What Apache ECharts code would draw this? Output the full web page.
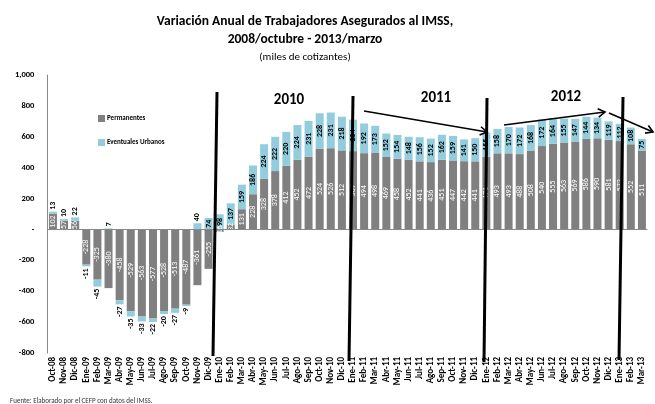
<!DOCTYPE html>
<html>
<head>
<meta charset="utf-8">
<script src="https://cdn.jsdelivr.net/npm/echarts@6/dist/echarts.min.js"></script>
<style>
  html, body { margin: 0; padding: 0; background: #fff; }
  #grafica { width: 655px; height: 404px; }
</style>
</head>
<body>
<div id="grafica"></div>
<script>
  // meses (eje x)
  var categorias = ['Oct-08','Nov-08','Dic-08',
    'Ene-09','Feb-09','Mar-09','Abr-09','May-09','Jun-09','Jul-09','Ago-09','Sep-09','Oct-09','Nov-09','Dic-09',
    'Ene-10','Feb-10','Mar-10','Abr-10','May-10','Jun-10','Jul-10','Ago-10','Sep-10','Oct-10','Nov-10','Dic-10',
    'Ene-11','Feb-11','Mar-11','Abr-11','May-11','Jun-11','Jul-11','Ago-11','Sep-11','Oct-11','Nov-11','Dic-11',
    'Ene-12','Feb-12','Mar-12','Abr-12','May-12','Jun-12','Jul-12','Ago-12','Sep-12','Oct-12','Nov-12','Dic-12',
    'Ene-13','Feb-13','Mar-13']
  // miles de cotizantes
  var permanentes = [102, 57, 56,
    -228, -325, -380, -458, -529, -563, -577, -528, -513, -487, -361, -255,
    -16, 32, 131, 228, 328, 378, 412, 452, 472, 524, 526, 512,
    507, 494, 498, 469, 458, 452, 441, 436, 451, 447, 442, 441,
    471, 493, 493, 488, 508, 540, 555, 563, 569, 586, 590, 581,
    572, 552, 511]
  var eventuales = [13, 10, 22,
    -11, -45, 7, -27, -35, -33, -22, -20, -27, -9, 40, 74,
    98, 137, 159, 186, 224, 222, 220, 224, 231, 228, 231, 218,
    204, 192, 173, 152, 154, 148, 156, 152, 162, 159, 141, 150,
    155, 158, 170, 172, 168, 172, 164, 155, 147, 144, 134, 119,
    112, 108, 75]
  var ejeY = { min: -800, max: 1000, intervalo: 200 }
  var anios = ['2010', '2011', '2012']

  var fuente = "Carlito, 'Liberation Sans Narrow', 'Liberation Sans', sans-serif"
  var gris = '#808080'
  var azul = '#93cddd'

  // etiquetas de eventuales: afuera cuando la barra es chica o negativa
  function datosEventuales (data) {
    var res = []
    for (var i = 0; i < data.length; i++) {
      var v = data[i]
      var lab
      if (v < 0) {
        lab = { position: 'bottom', align: 'right', verticalAlign: 'middle', distance: 2 }
      } else if (v < 60) {
        lab = { position: 'top', align: 'left', verticalAlign: 'middle', distance: 2 }
      } else {
        lab = { position: 'inside', align: 'center', verticalAlign: 'middle' }
      }
      res.push({ value: v, label: lab })
    }
    return res
  }

  // flecha con punta abierta
  function flecha (x1, y1, x2, y2) {
    var a = Math.atan2(y2 - y1, x2 - x1), L = 8, s = 0.55
    return [
      { type: 'line', z: 100, shape: { x1: x1, y1: y1, x2: x2, y2: y2 }, style: { stroke: '#000', lineWidth: 1.6 } },
      { type: 'polyline', z: 100, shape: { points: [
        [x2 - L * Math.cos(a - s), y2 - L * Math.sin(a - s)], [x2, y2],
        [x2 - L * Math.cos(a + s), y2 - L * Math.sin(a + s)]] },
        style: { stroke: '#000', lineWidth: 1.6, fill: null } }
    ]
  }
  function linea (x1, y1, x2, y2) {
    return { type: 'line', z: 100, shape: { x1: x1, y1: y1, x2: x2, y2: y2 }, style: { stroke: '#000', lineWidth: 3 } }
  }
  function anio (txt, x, y) {
    return { type: 'text', z: 100, x: x, y: y, style: { text: txt, font: 'bold 15px ' + fuente, fill: '#000', align: 'center', verticalAlign: 'middle' } }
  }

  var graficos = [
    linea(217, 92, 213, 356), linea(353, 96, 349, 361), linea(487, 98, 484, 362), linea(623, 97, 619, 360),
    anio(anios[0], 289, 100), anio(anios[1], 436, 98), anio(anios[2], 566, 97),
    { type: 'text', z: 100, x: 10, y: 398, style: { text: 'Fuente: Elaborado por el CEFP con datos del IMSS.', font: '7px ' + fuente, fill: '#333' } }
  ].concat(flecha(364, 111, 487, 132), flecha(504, 125, 605, 112), flecha(609, 113, 653, 132))

  var chart = echarts.init(document.getElementById('grafica'))
  chart.setOption({
    animation: false,
    textStyle: { fontFamily: fuente },
    title: [
      { text: 'Variación Anual de Trabajadores Asegurados al IMSS,', left: 300, top: 10, textAlign: 'center',
        textStyle: { fontSize: 13.5, fontWeight: 'bold', color: '#000', fontFamily: fuente } },
      { text: '2008/octubre - 2013/marzo', left: 300, top: 28, textAlign: 'center',
        textStyle: { fontSize: 13.5, fontWeight: 'bold', color: '#000', fontFamily: fuente } },
      { text: '(miles de cotizantes)', left: 300, top: 47, textAlign: 'center',
        textStyle: { fontSize: 11, fontWeight: 'normal', color: '#000', fontFamily: fuente } }
    ],
    legend: {
      orient: 'vertical', left: 93, top: 110, itemGap: 17, itemWidth: 7, itemHeight: 7,
      icon: 'rect', textStyle: { fontSize: 7, fontWeight: 'bold', color: '#000', padding: [0, 0, 0, -3] },
      data: ['Permanentes', 'Eventuales Urbanos']
    },
    grid: { left: 47.4, right: 7.5, top: 75, bottom: 51, containLabel: false },
    xAxis: {
      type: 'category', data: categorias,
      axisLine: { show: false, onZero: false },
      axisTick: { show: false },
      axisLabel: { interval: 0, rotate: 90, fontSize: 9, fontWeight: 'bold', color: '#000', margin: 4 }
    },
    yAxis: {
      type: 'value', min: ejeY.min, max: ejeY.max, interval: ejeY.intervalo,
      splitLine: { show: false },
      axisLine: { show: true, lineStyle: { color: '#888', width: 1 } },
      axisTick: { show: false },
      axisLabel: {
        fontSize: 8.5, fontWeight: 'bold', color: '#000', margin: 13,
        formatter: function (v) { return v === 0 ? '-' : echarts.format.addCommas(v) }
      }
    },
    graphic: graficos,
    series: [
      {
        name: 'Permanentes', type: 'bar', stack: 'total', data: permanentes,
        barWidth: 8, itemStyle: { color: gris },
        label: { show: true, position: 'inside', rotate: 90, fontSize: 8, color: '#fff', align: 'center', verticalAlign: 'middle' },
        markLine: {
          silent: true, symbol: 'none', label: { show: false },
          lineStyle: { color: '#888', width: 1, type: 'solid' },
          data: [{ yAxis: 0 }]
        }
      },
      {
        name: 'Eventuales Urbanos', type: 'bar', stack: 'total', data: datosEventuales(eventuales),
        barWidth: 8, itemStyle: { color: azul },
        label: { show: true, rotate: 90, fontSize: 8, fontWeight: 'bold', color: '#000' }
      }
    ]
  })
</script>
</body>
</html>
